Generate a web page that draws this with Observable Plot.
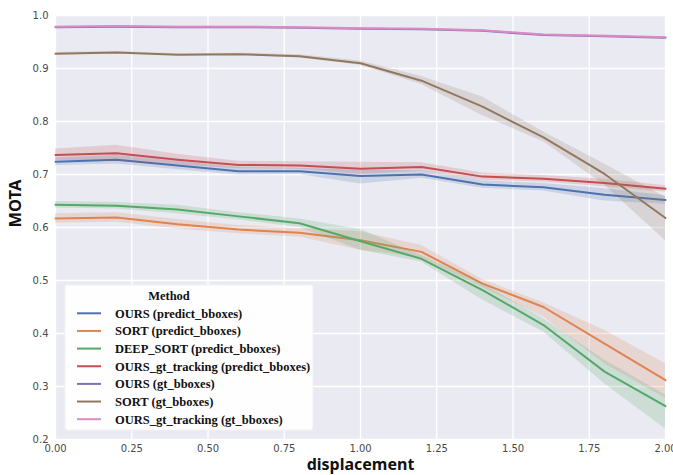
<!DOCTYPE html>
<html>
<head>
<meta charset="utf-8">
<script src="https://cdn.jsdelivr.net/npm/d3@7"></script>
<script src="https://cdn.jsdelivr.net/npm/@observablehq/plot@0.6"></script>
<style>
  html, body { margin: 0; padding: 0; background: #fff; }
  #chart { width: 673px; height: 475px; }
</style>
</head>
<body>
<div id="chart"></div>
<script>
// ---- data ----
const displacement = [0, 0.2, 0.4, 0.6, 0.8, 1.0, 1.2, 1.4, 1.6, 1.8, 2.0];

const methods = [
  "OURS (predict_bboxes)",
  "SORT (predict_bboxes)",
  "DEEP_SORT (predict_bboxes)",
  "OURS_gt_tracking (predict_bboxes)",
  "OURS (gt_bboxes)",
  "SORT (gt_bboxes)",
  "OURS_gt_tracking (gt_bboxes)"
];

const oursPredMean = [0.724, 0.728, 0.717, 0.706, 0.706, 0.697, 0.700, 0.681, 0.676, 0.662, 0.652];
const oursPredLo   = [0.717, 0.720, 0.709, 0.699, 0.700, 0.682, 0.693, 0.674, 0.669, 0.650, 0.644];
const oursPredHi   = [0.731, 0.736, 0.725, 0.713, 0.712, 0.708, 0.707, 0.688, 0.683, 0.673, 0.660];

const sortPredMean = [0.617, 0.619, 0.606, 0.596, 0.590, 0.576, 0.554, 0.494, 0.450, 0.381, 0.312];
const sortPredLo   = [0.608, 0.610, 0.597, 0.588, 0.582, 0.557, 0.543, 0.487, 0.431, 0.343, 0.278];
const sortPredHi   = [0.626, 0.628, 0.615, 0.604, 0.598, 0.592, 0.566, 0.502, 0.458, 0.406, 0.343];

const deepPredMean = [0.643, 0.641, 0.634, 0.621, 0.608, 0.574, 0.541, 0.482, 0.416, 0.328, 0.263];
const deepPredLo   = [0.637, 0.635, 0.626, 0.614, 0.600, 0.557, 0.535, 0.463, 0.403, 0.305, 0.220];
const deepPredHi   = [0.649, 0.647, 0.642, 0.628, 0.616, 0.596, 0.547, 0.494, 0.428, 0.350, 0.284];

const gtTrkPredMean = [0.737, 0.740, 0.728, 0.718, 0.717, 0.711, 0.714, 0.696, 0.692, 0.684, 0.673];
const gtTrkPredLo   = [0.727, 0.725, 0.718, 0.711, 0.710, 0.700, 0.706, 0.689, 0.686, 0.677, 0.667];
const gtTrkPredHi   = [0.748, 0.755, 0.738, 0.725, 0.724, 0.723, 0.722, 0.703, 0.698, 0.691, 0.679];

const oursGtMean = [0.978, 0.979, 0.978, 0.978, 0.977, 0.975, 0.974, 0.971, 0.963, 0.961, 0.958];
const oursGtLo   = [0.977, 0.978, 0.977, 0.977, 0.976, 0.974, 0.973, 0.970, 0.962, 0.960, 0.957];
const oursGtHi   = [0.979, 0.980, 0.979, 0.979, 0.978, 0.976, 0.975, 0.972, 0.964, 0.962, 0.959];

const sortGtMean = [0.928, 0.930, 0.926, 0.927, 0.923, 0.910, 0.877, 0.828, 0.770, 0.701, 0.618];
const sortGtLo   = [0.926, 0.928, 0.924, 0.925, 0.920, 0.906, 0.870, 0.811, 0.762, 0.680, 0.575];
const sortGtHi   = [0.930, 0.932, 0.928, 0.929, 0.926, 0.914, 0.885, 0.846, 0.780, 0.720, 0.657];

const gtTrkGtMean = [0.979, 0.980, 0.979, 0.979, 0.978, 0.976, 0.975, 0.972, 0.964, 0.962, 0.959];
const gtTrkGtLo   = [0.978, 0.979, 0.978, 0.978, 0.977, 0.975, 0.974, 0.971, 0.963, 0.961, 0.958];
const gtTrkGtHi   = [0.980, 0.981, 0.980, 0.980, 0.979, 0.977, 0.976, 0.973, 0.965, 0.963, 0.960];

const palette = ["#4C72B0", "#DD8452", "#55A868", "#C44E52", "#8172B3", "#937860", "#DA8BC3"];

const xTicks = [0, 0.25, 0.5, 0.75, 1.0, 1.25, 1.5, 1.75, 2.0];
const yTicks = [0.2, 0.3, 0.4, 0.5, 0.6, 0.7, 0.8, 0.9, 1.0];

// ---- table built from the arrays ----
const seriesArrays = [
  [oursPredMean, oursPredLo, oursPredHi],
  [sortPredMean, sortPredLo, sortPredHi],
  [deepPredMean, deepPredLo, deepPredHi],
  [gtTrkPredMean, gtTrkPredLo, gtTrkPredHi],
  [oursGtMean, oursGtLo, oursGtHi],
  [sortGtMean, sortGtLo, sortGtHi],
  [gtTrkGtMean, gtTrkGtLo, gtTrkGtHi]
];
const rows = [];
methods.forEach((m, i) => {
  const [mean, lo, hi] = seriesArrays[i];
  displacement.forEach((d, j) => rows.push({method: m, displacement: d, mota: mean[j], lo: lo[j], hi: hi[j]}));
});

const seriesMarks = [];
methods.forEach(m => {
  const sub = rows.filter(r => r.method === m);
  seriesMarks.push(Plot.areaY(sub, {x: "displacement", y1: "lo", y2: "hi", fill: "method", fillOpacity: 0.2}));
  seriesMarks.push(Plot.lineY(sub, {x: "displacement", y: "mota", stroke: "method", strokeWidth: 2}));
});

const W = 673, H = 475;
const chart = Plot.plot({
  width: W,
  height: H,
  marginLeft: 55,
  marginRight: 8,
  marginTop: 15,
  marginBottom: 36,
  style: {fontFamily: "DejaVu Sans", fontSize: "10px", color: "#4a4a4a", background: "#fff"},
  x: {domain: [0, 2], ticks: xTicks, tickFormat: d3.format(".2f"), label: null},
  y: {domain: [0.2, 1.0], ticks: yTicks, tickFormat: d3.format(".1f"), label: null},
  color: {domain: methods, range: palette},
  marks: [
    Plot.frame({fill: "#EAEAF2", stroke: null}),
    Plot.gridX(xTicks, {stroke: "#fff", strokeOpacity: 1, strokeWidth: 1.3}),
    Plot.gridY(yTicks, {stroke: "#fff", strokeOpacity: 1, strokeWidth: 1.3}),
    ...seriesMarks,
    Plot.axisX(xTicks, {tickSize: 0, tickPadding: 5, tickFormat: d3.format(".2f"), fill: "#4a4a4a"}),
    Plot.axisY(yTicks, {tickSize: 0, tickPadding: 7, tickFormat: d3.format(".1f"), fill: "#4a4a4a"}),
    Plot.text(["displacement"], {frameAnchor: "bottom", dy: 25, lineAnchor: "middle", fontSize: 16, fontWeight: "bold", fill: "#111", fontFamily: "Noto Sans"}),
    Plot.text(["MOTA"], {frameAnchor: "left", dx: -40, rotate: -90, fontSize: 16.5, fontWeight: "bold", fill: "#111", fontFamily: "Noto Sans"})
  ]
});
document.getElementById("chart").appendChild(chart);

// ---- legend box (inside the plot, lower left) ----
const svg = d3.select(chart);
const lg = svg.append("g")
  .attr("font-family", "'Liberation Serif', 'Times New Roman', serif")
  .attr("font-weight", "bold")
  .attr("text-anchor", "start");
lg.append("rect").attr("x", 65).attr("y", 285).attr("width", 248).attr("height", 145)
  .attr("fill", "#fff").attr("fill-opacity", 0.92).attr("stroke", "#f2f2f2").attr("rx", 2);
lg.append("text").attr("x", 169).attr("y", 299.5).attr("text-anchor", "middle")
  .attr("font-size", 12.5).attr("fill", "#111").text("Method");
methods.forEach((m, i) => {
  const y = 313.3 + i * 17.65;
  lg.append("line").attr("x1", 77).attr("x2", 101).attr("y1", y).attr("y2", y)
    .attr("stroke", palette[i]).attr("stroke-width", 2);
  lg.append("text").attr("x", 115).attr("y", y + 4.5).attr("text-anchor", "start")
    .attr("font-size", 12.5).attr("fill", "#111").text(m);
});
</script>
</body>
</html>
